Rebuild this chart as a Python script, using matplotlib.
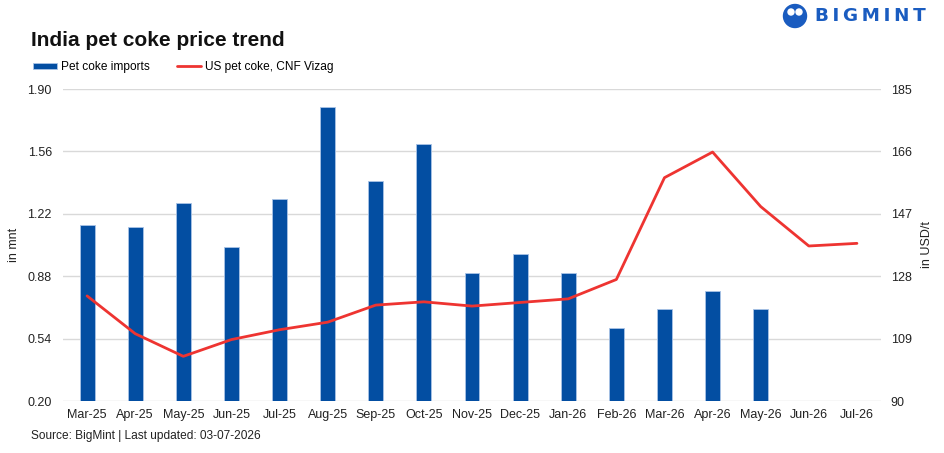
import matplotlib.pyplot as plt
from matplotlib.patches import Ellipse
import numpy as np

# duomenys
months = ["Mar-25", "Apr-25", "May-25", "Jun-25", "Jul-25", "Aug-25", "Sep-25",
          "Oct-25", "Nov-25", "Dec-25", "Jan-26", "Feb-26", "Mar-26", "Apr-26",
          "May-26", "Jun-26", "Jul-26"]
imports = [1.16, 1.15, 1.28, 1.04, 1.30, 1.80, 1.40, 1.60, 0.895, 1.00, 0.895,
           0.60, 0.70, 0.80, 0.70, np.nan, np.nan]
us_price = [122, 110.5, 103.6, 108.7, 111.7, 114, 119.2, 120.2, 118.9, 120,
            121.1, 127, 158, 165.8, 149.2, 137.2, 138]
left_ticks = [0.20, 0.54, 0.88, 1.22, 1.56, 1.90]
right_ticks = [90, 109, 128, 147, 166, 185]

plt.rcParams["font.family"] = ["Liberation Sans", "DejaVu Sans"]
blue = "#034ea2"
red = "#ee3431"
grid_c = "#d9d9d9"
txt_c = "#222222"

fig = plt.figure(figsize=(9.44, 4.53), dpi=100)
ax = fig.add_axes([63 / 944, 1 - 401 / 453, 818 / 944, 312 / 453])
ax2 = ax.twinx()

x = np.arange(len(months))
bars = ax.bar(x, imports, width=0.31, color=blue, edgecolor="#a9c3e6",
              linewidth=0.6, zorder=2, label="Pet coke imports")
line, = ax2.plot(x, us_price, color=red, linewidth=2.0, solid_capstyle="round",
                 label="US pet coke, CNF Vizag")

ax.set_ylim(0.20, 1.90)
ax.set_yticks(left_ticks)
ax.set_yticklabels([f"{t:.2f}" for t in left_ticks])
ax2.set_ylim(90, 185)
ax2.set_yticks(right_ticks)
ax.set_xlim(-0.5, len(months) - 0.5)
ax.set_xticks(x)
ax.set_xticklabels(months)

ax.grid(axis="y", color=grid_c, linewidth=1.0, zorder=0)
ax.set_axisbelow(True)
for a in (ax, ax2):
    for s in a.spines.values():
        s.set_visible(False)
    a.tick_params(length=0, labelsize=9, colors=txt_c)
ax.tick_params(axis="y", pad=8)
ax.tick_params(axis="x", pad=6)
ax2.tick_params(axis="y", pad=7)

ax.set_ylabel("in mnt", fontsize=9, color=txt_c)
ax.yaxis.set_label_coords((20 - 63) / 818, 0.5)
ax2.set_ylabel("in USD/t", fontsize=9, color=txt_c, rotation=90)
ax2.yaxis.set_label_coords((921 - 63) / 818, 0.5)

# pavadinimas, legenda, šaltinis
fig.text(31 / 944, 1 - 40 / 453, "India pet coke price trend", fontsize=15,
         fontweight="bold", va="center", ha="left", color="#111111")
fig.legend(handles=[bars, line], loc="center left",
           bbox_to_anchor=(22 / 944, 1 - 67 / 453), ncol=2, frameon=False,
           fontsize=8.6, handlelength=2.0, handleheight=0.35, handletextpad=0.35,
           columnspacing=2.3)
fig.text(31 / 944, 1 - 436 / 453, "Source: BigMint | Last updated: 03-07-2026",
         fontsize=8.6, va="center", ha="left", color=txt_c)

# logotipas
logo_c = "#1a5cc0"
fig.patches.append(Ellipse((795 / 944, 1 - 16 / 453), 23 / 944, 23 / 453,
                           color=logo_c, transform=fig.transFigure, figure=fig))
for dx in (-4, 4):
    fig.patches.append(Ellipse(((795 + dx) / 944, 1 - 12 / 453), 6 / 944, 6 / 453,
                               color="white", transform=fig.transFigure, figure=fig))
fig.text(815 / 944, 1 - 16 / 453, "\u2009".join("BIGMINT"), fontsize=13.2,
         fontweight="bold", color=logo_c, va="center", ha="left",
         family="DejaVu Sans")

fig.savefig("out.png", dpi=100)
